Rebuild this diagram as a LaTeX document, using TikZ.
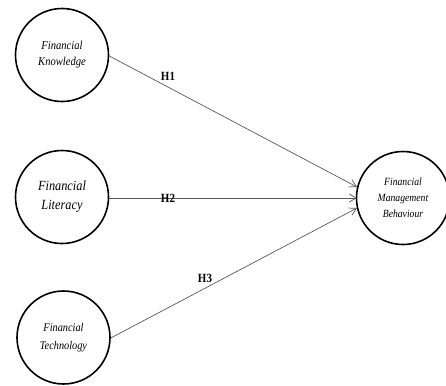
\documentclass[tikz,border=0pt]{standalone}
\usepackage{fontspec}
\setmainfont{Liberation Serif}
\usetikzlibrary{arrows.meta}
\newcommand{\cond}[1]{\scalebox{0.88}[1]{#1}}
\begin{document}
\begin{tikzpicture}[x=1pt,y=-1pt,
  construct/.style={circle,draw=black,line width=1.6pt,minimum size=93pt,inner sep=0pt,align=center},
  path/.style={draw=black!65,line width=0.7pt,-{Straight Barb[length=7pt,width=8pt,line width=0.7pt]}},
  hyp/.style={font=\bfseries\fontsize{12.5}{12}\selectfont,inner sep=0pt}]
\useasboundingbox (0,0) rectangle (446,385);
\begin{scope}
\clip (0,0) rectangle (446,385);
\node[construct,font=\itshape\fontsize{12}{16}\selectfont] (fk) at (62,55) {\cond{Financial}\\\cond{Knowledge}};
\node[construct,font=\itshape\fontsize{14}{19}\selectfont] (fl) at (62,197) {\cond{Financial}\\\cond{Literacy}};
\node[construct,font=\itshape\fontsize{11.7}{18}\selectfont] (ft) at (63.5,337.5) {\cond{Financial}\\\cond{Technology}};
\node[construct,font=\itshape\fontsize{11}{16}\selectfont] (fmb) at (403,198) {\cond{Financial}\\\cond{Management}\\\cond{Behaviour}};
\coordinate (t1) at (357,187);
\coordinate (t2) at (357,198);
\coordinate (t3) at (357,208);
\draw[path] (fk.east |- 0,56) -- (t1);
\draw[path] (fl.east |- 0,198) -- (t2);
\draw[path] (ft.east |- 0,338) -- (t3);
\node[hyp] (h1) at (168,76) {\cond{H1}};
\node[hyp] (h2) at (168,198) {\cond{H2}};
\node[hyp] (h3) at (205,278) {\cond{H3}};
\end{scope}
\end{tikzpicture}
\end{document}
